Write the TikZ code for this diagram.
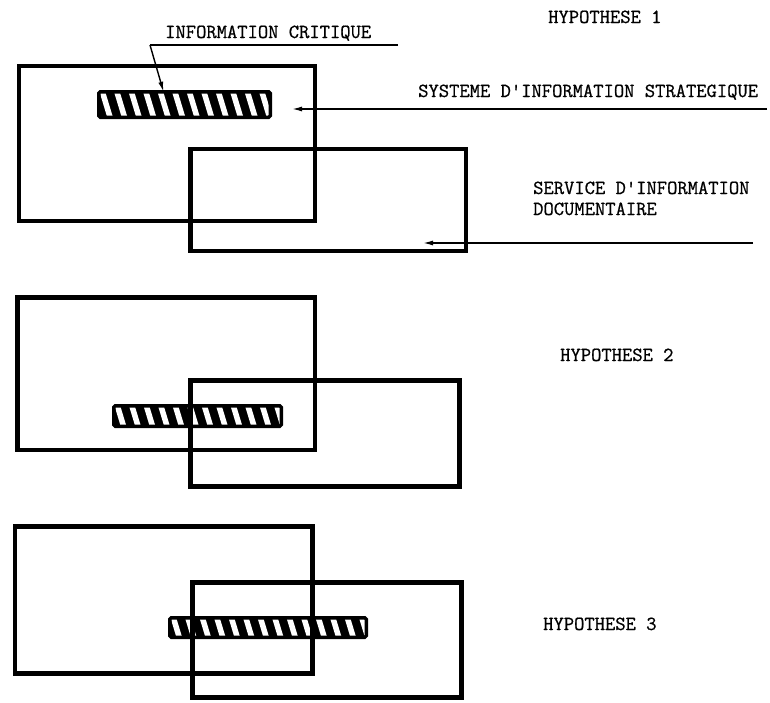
\documentclass[tikz,border=0pt]{standalone}
\usepackage{fontspec}
\newfontfamily\twfont{Latin Modern Mono}[FakeBold=0.8]
\usetikzlibrary{arrows.meta}
\begin{document}
\begin{tikzpicture}[x=1pt,y=-1pt,
  box/.style={draw=black, line width=4.5pt, rectangle, inner sep=0pt, outer sep=0pt},
  hbar/.style={draw=black, fill=black, line width=3.5pt, rectangle, rounded corners=1.5pt,
    inner sep=0pt, outer sep=0pt,
    path picture={\foreach \k in {-1,...,16}{\draw[white,line width=5.5pt]
      ([xshift=\k*14.5pt+3pt,yshift=2pt]path picture bounding box.north west) -- ++(10pt,-33pt);}}},
  lbl/.style={font=\fontsize{20}{21}\selectfont\twfont, inner sep=0pt, anchor=base west},
  ptr/.style={line width=1.4pt, -{Latex[length=10pt,width=5pt]}},
  uline/.style={line width=1.4pt}]
\path[use as bounding box] (0,0) rectangle (770,702);

% ---------- Hypothese 1 ----------
\node[hbar, minimum width=171.5pt, minimum height=25.5pt] (bar1) at (184.5,104.5) {};
\node[box, minimum width=296pt, minimum height=155pt] (a1) at (167,143.5) {};
\node[box, minimum width=275.5pt, minimum height=102pt] (b1) at (328.25,200) {};

\node[lbl] (hyp1) at (548,23) {HYPOTHESE 1};
\node[lbl] (ic) at (165,38) {INFORMATION CRITIQUE};
\node[lbl] (sis) at (418,97) {SYSTEME D'INFORMATION STRATEGIQUE};
\node[lbl, align=left] (sid) at (533,215) {SERVICE D'INFORMATION\\DOCUMENTAIRE};

\coordinate (ic-r) at (398,45);
\coordinate (ic-l) at (150,45);
\draw[uline] (ic-r) -- (ic-l);
\draw[ptr] (ic-l) -- ([xshift=-21pt]bar1.north);

\coordinate (sis-r) at (767,109);
\coordinate (sis-tip) at (292,109);
\draw[ptr] (sis-r) -- (sis-tip);

\coordinate (sid-r) at (753,243);
\coordinate (sid-tip) at (423,243);
\draw[ptr] (sid-r) -- (sid-tip);

% ---------- Hypothese 2 ----------
\node[hbar, minimum width=167.5pt, minimum height=20.5pt] (bar2) at (197.5,416) {};
\node[box, minimum width=297.5pt, minimum height=152.5pt] (a2) at (166.25,373.75) {};
\node[box, minimum width=269pt, minimum height=106pt] (b2) at (325,433.5) {};
\node[lbl] (hyp2) at (560,361) {HYPOTHESE 2};

% ---------- Hypothese 3 ----------
\node[hbar, minimum width=196.5pt, minimum height=19.5pt] (bar3) at (268,627.5) {};
\node[box, minimum width=297.5pt, minimum height=147pt] (a3) at (163.75,600) {};
\node[box, minimum width=269pt, minimum height=115pt] (b3) at (327,640) {};
\node[lbl] (hyp3) at (543,630) {HYPOTHESE 3};
\end{tikzpicture}
\end{document}
